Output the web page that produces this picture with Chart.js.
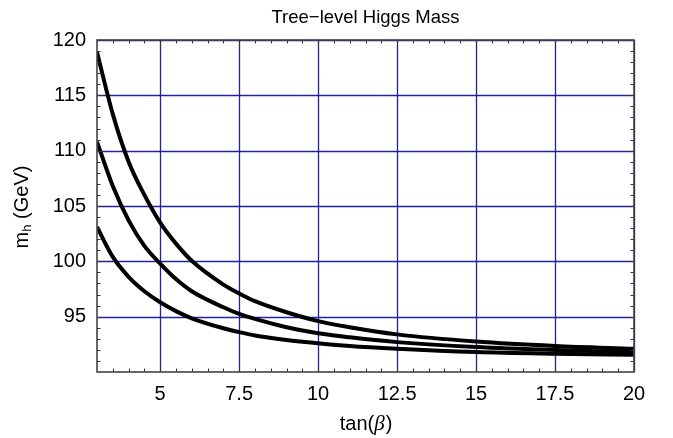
<html>
<head>
  <title>Tree-level Higgs Mass</title>
  <script src="https://cdn.jsdelivr.net/npm/chart.js@4.4.0/dist/chart.umd.min.js"></script>
  <style>
  body { margin: 0; background: #fff; }
  #wrap { width: 673px; height: 438px; }
  </style>
</head>
<body>
  <div id="wrap"><canvas id="chart" width="673" height="438"></canvas></div>

  <script>
    // values
    var tanBeta = [3, 3.5, 4, 4.5, 5, 5.5, 6, 7, 7.5, 8, 9, 10, 11, 12.5, 15, 17.5, 20];
    var upperMass  = [118.9, 113.3, 109.0, 106.0, 103.5, 101.6, 100.05, 97.9, 97.1, 96.4, 95.4, 94.6, 94.05, 93.4, 92.75, 92.35, 92.1];
    var middleMass = [110.8, 106.8, 103.7, 101.4, 99.8, 98.4, 97.3, 95.85, 95.25, 94.8, 94.05, 93.5, 93.13, 92.7, 92.25, 91.98, 91.8];
    var lowerMass  = [103.1, 100.4, 98.6, 97.3, 96.3, 95.5, 94.85, 93.95, 93.6, 93.3, 92.9, 92.6, 92.35, 92.1, 91.8, 91.65, 91.55];

    var xTicks = [5, 7.5, 10, 12.5, 15, 17.5, 20];
    var yTicks = [95, 100, 105, 110, 115, 120];

    var font = "'Liberation Sans', Arial, Helvetica, sans-serif";

    function pts(ys) {
      var out = [];
      for (i = 0; i < tanBeta.length; i++) {
        out.push({x: tanBeta[i], y: ys[i]});
      }
      return out;
    }

    function curve(ys) {
      return {
        data: pts(ys),
        borderColor: '#000',
        borderWidth: 4,
        pointRadius: 0,
        fill: false,
        cubicInterpolationMode: 'monotone'
      };
    }

    // navy grid lines under the curves
    var gridPlugin = {
      id: 'navyGrid',
      beforeDatasetsDraw: function(chart) {
        var ctx = chart.ctx;
        var a = chart.chartArea;
        var xs = chart.scales.x, ys = chart.scales.y;
        ctx.save();
        ctx.strokeStyle = '#2020a0';
        ctx.lineWidth = 1.3;
        ctx.beginPath();
        xTicks.forEach(function(v) {
          var px = Math.round(xs.getPixelForValue(v)) + 0.5;
          ctx.moveTo(px, a.top); ctx.lineTo(px, a.bottom);
        });
        yTicks.forEach(function(v) {
          var py = Math.round(ys.getPixelForValue(v)) + 0.5;
          ctx.moveTo(a.left, py); ctx.lineTo(a.right, py);
        });
        ctx.stroke();
        ctx.restore();
      }
    };

    // frame, inward ticks and the titles
    var framePlugin = {
      id: 'frame',
      afterDraw: function(chart) {
        var ctx = chart.ctx;
        var a = chart.chartArea;
        var xs = chart.scales.x, ys = chart.scales.y;
        ctx.save();
        ctx.strokeStyle = '#333';
        ctx.lineWidth = 1;
        ctx.beginPath();
        for (var v = 3.5; v < 20; v += 0.5) {
          var px = Math.round(xs.getPixelForValue(v)) + 0.5;
          var len = (xTicks.indexOf(v) >= 0) ? 6 : 3.5;
          ctx.moveTo(px, a.bottom); ctx.lineTo(px, a.bottom - len);
          ctx.moveTo(px, a.top); ctx.lineTo(px, a.top + len);
        }
        for (var w = 91; w < 120; w += 1) {
          var py = Math.round(ys.getPixelForValue(w)) + 0.5;
          var l2 = (w % 5 == 0) ? 6 : 3.5;
          ctx.moveTo(a.left, py); ctx.lineTo(a.left + l2, py);
          ctx.moveTo(a.right, py); ctx.lineTo(a.right - l2, py);
        }
        ctx.stroke();

        ctx.strokeStyle = '#444';
        ctx.lineWidth = 1.6;
        ctx.strokeRect(a.left, a.top, a.right - a.left, a.bottom - a.top);

        ctx.fillStyle = '#000';
        ctx.textBaseline = 'middle';
        ctx.textAlign = 'center';
        ctx.font = '18.5px ' + font;
        ctx.fillText('Tree\u2212level Higgs Mass', (a.left + a.right) / 2, 18);

        // x title: tan(beta) with italic beta
        ctx.textAlign = 'left';
        var f1 = '20px ' + font, f2 = "italic 21px 'Liberation Serif', 'Times New Roman', serif";
        ctx.font = f1; var w1 = ctx.measureText('tan(').width, w3 = ctx.measureText(')').width;
        ctx.font = f2; var w2 = ctx.measureText('\u03B2').width;
        var x0 = (a.left + a.right) / 2 - (w1 + w2 + w3) / 2, ty = 424;
        ctx.font = f1; ctx.fillText('tan(', x0, ty);
        ctx.font = f2; ctx.fillText('\u03B2', x0 + w1, ty);
        ctx.font = f1; ctx.fillText(')', x0 + w1 + w2 + 1, ty);

        // y title: m_h (GeV)
        ctx.translate(22, 207);
        ctx.rotate(-Math.PI / 2);
        var fs = '13px ' + font;
        ctx.font = f1; var m1 = ctx.measureText('m').width, m3 = ctx.measureText(' (GeV)').width;
        ctx.font = fs; var m2 = ctx.measureText('h').width;
        var s0 = -(m1 + m2 + m3) / 2;
        ctx.font = f1; ctx.fillText('m', s0, 0);
        ctx.font = fs; ctx.fillText('h', s0 + m1, 5);
        ctx.font = f1; ctx.fillText(' (GeV)', s0 + m1 + m2, 0);
        ctx.restore();
      }
    };

    new Chart(document.getElementById('chart'), {
      type: 'line',
      data: {
        datasets: [curve(upperMass), curve(middleMass), curve(lowerMass)]
      },
      options: {
        responsive: false,
        animation: false,
        layout: { padding: { top: 40, right: 39, bottom: 0, left: 0 } },
        plugins: { legend: { display: false }, tooltip: { enabled: false } },
        scales: {
          x: {
            type: 'linear',
            min: 3,
            max: 20,
            afterBuildTicks: function(s) { s.ticks = xTicks.map(function(v) { return {value: v}; }); },
            afterFit: function(s) { s.height = 66; },
            grid: { display: false, drawTicks: false },
            border: { display: false },
            ticks: {
              padding: 10,
              maxRotation: 0,
              color: '#000',
              font: { family: font, size: 20 },
              callback: function(v) { return String(v); }
            }
          },
          y: {
            min: 90,
            max: 120,
            afterBuildTicks: function(s) { s.ticks = yTicks.map(function(v) { return {value: v}; }); },
            afterFit: function(s) { s.width = 97; },
            grid: { display: false, drawTicks: false },
            border: { display: false },
            ticks: {
              padding: 11,
              color: '#000',
              font: { family: font, size: 20 },
              callback: function(v) { return String(v); }
            }
          }
        }
      },
      plugins: [gridPlugin, framePlugin]
    });
  </script>
</body>
</html>
